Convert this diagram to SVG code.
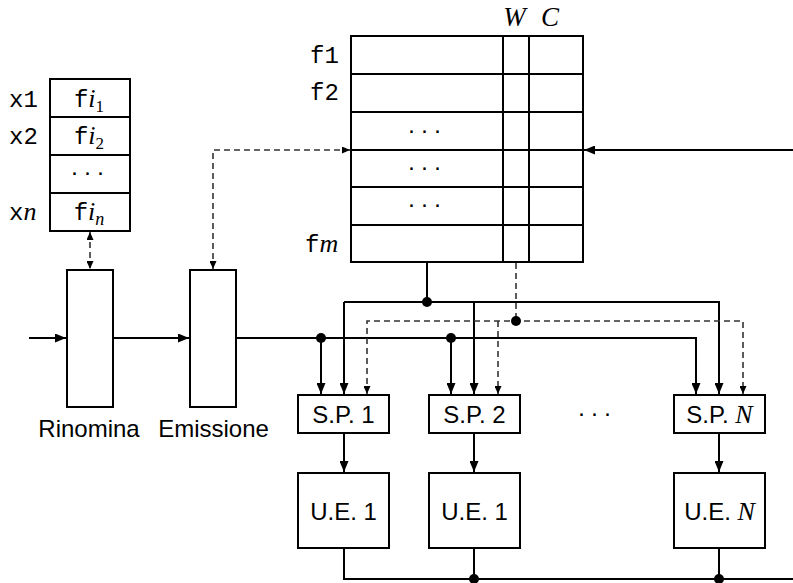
<svg xmlns="http://www.w3.org/2000/svg" width="793" height="583" viewBox="0 0 793 583">
<defs>
<marker id="a" markerUnits="userSpaceOnUse" markerWidth="11" markerHeight="9" refX="11" refY="4.5" orient="auto"><path d="M0,0 L11,4.5 L0,9 z" fill="#000"/></marker>
<marker id="d" markerUnits="userSpaceOnUse" markerWidth="8" markerHeight="7" refX="8" refY="3.5" orient="auto-start-reverse"><path d="M0,0 L8,3.5 L0,7 z" fill="#000"/></marker>
</defs>
<style>
.b{fill:#fff;stroke:#000;stroke-width:2}
.l{fill:none;stroke:#000;stroke-width:2}
.ds{fill:none;stroke:#333;stroke-width:1.6;stroke-dasharray:6 4}
.sans{font-family:"Liberation Sans",Arial,sans-serif;font-size:24px}
.tt{font-family:"Liberation Mono","Courier New",monospace;font-size:24px}
.mi{font-family:"Liberation Serif","Times New Roman",serif;font-style:italic}
.sub{font-family:"Liberation Serif","Times New Roman",serif;font-size:17px}
.dots{font-family:"Liberation Sans",Arial,sans-serif;font-size:24px;letter-spacing:5px}
</style>
<rect width="793" height="583" fill="#fff"/>

<g id="regfile">
<rect class="b" x="50" y="79" width="80" height="152"/>
<path class="l" d="M50,117 H130 M50,155 H130 M50,193 H130"/>
<text class="tt" x="9" y="107">x1</text>
<text class="tt" x="9" y="144">x2</text>
<text class="tt" x="9" y="220">x<tspan class="mi" font-size="26">n</tspan></text>
<text class="tt" x="89" y="107" text-anchor="middle">f<tspan class="mi" font-size="26">i</tspan><tspan class="sub" dy="5">1</tspan></text>
<text class="tt" x="89" y="144" text-anchor="middle">f<tspan class="mi" font-size="26">i</tspan><tspan class="sub" dy="5">2</tspan></text>
<text class="dots" x="90" y="180" text-anchor="middle">···</text>
<text class="tt" x="89" y="220" text-anchor="middle">f<tspan class="mi" font-size="26">i</tspan><tspan class="mi" font-size="18" dy="5">n</tspan></text>
</g>

<g id="table">
<rect class="b" x="351" y="36" width="232" height="226"/>
<path class="l" d="M351,74 H583 M351,112 H583 M351,150 H583 M351,187 H583 M351,225 H583 M503,36 V262 M529,36 V262"/>
<text class="tt" x="310" y="63">f1</text>
<text class="tt" x="310" y="100">f2</text>
<text class="tt" x="305" y="252">f<tspan class="mi" font-size="26">m</tspan></text>
<text class="mi" font-size="27" x="514.5" y="26" text-anchor="middle">W</text>
<text class="mi" font-size="27" x="550" y="26" text-anchor="middle">C</text>
<text class="dots" x="427" y="138" text-anchor="middle">···</text>
<text class="dots" x="427" y="175" text-anchor="middle">···</text>
<text class="dots" x="427" y="212" text-anchor="middle">···</text>
</g>

<g id="rinomina">
<rect class="b" x="67" y="270" width="46" height="137"/>
<text class="sans" x="89" y="437" text-anchor="middle">Rinomina</text>
</g>
<g id="emissione">
<rect class="b" x="190" y="270" width="46" height="137"/>
<text class="sans" x="213.5" y="437" text-anchor="middle">Emissione</text>
</g>

<g id="sp1"><rect class="b" x="298" y="395" width="91" height="38"/><text class="sans" x="343.5" y="423" text-anchor="middle">S.P. 1</text></g>
<g id="sp2"><rect class="b" x="429" y="395" width="91" height="38"/><text class="sans" x="474.5" y="423" text-anchor="middle">S.P. 2</text></g>
<g id="spN"><rect class="b" x="674" y="395" width="91" height="38"/><text class="sans" x="719.5" y="423" text-anchor="middle">S.P. <tspan class="mi" font-size="26">N</tspan></text></g>
<text class="dots" x="597" y="421" text-anchor="middle">···</text>

<g id="ue1"><rect class="b" x="298" y="473" width="91" height="75"/><text class="sans" x="343.5" y="520" text-anchor="middle">U.E. 1</text></g>
<g id="ue2"><rect class="b" x="429" y="473" width="91" height="75"/><text class="sans" x="474.5" y="520" text-anchor="middle">U.E. 1</text></g>
<g id="ueN"><rect class="b" x="674" y="473" width="91" height="75"/><text class="sans" x="719.5" y="520" text-anchor="middle">U.E. <tspan class="mi" font-size="26">N</tspan></text></g>

<g id="connectors">
<path class="l" d="M29,338 H66" marker-end="url(#a)"/>
<path class="l" d="M113,338 H189" marker-end="url(#a)"/>
<path class="ds" d="M90,232 V269" marker-start="url(#d)" marker-end="url(#d)"/>
<path class="ds" d="M213,269 V150 H350" marker-start="url(#d)" marker-end="url(#d)"/>
<path class="l" d="M793,150 H584" marker-end="url(#a)"/>
<path class="l" d="M236,338 H696 V394" marker-end="url(#a)"/>
<path class="l" d="M321,338 V394" marker-end="url(#a)"/>
<path class="l" d="M451,338 V394" marker-end="url(#a)"/>
<circle cx="321" cy="338" r="5"/>
<circle cx="451" cy="338" r="5"/>
<path class="l" d="M427,263 V302"/>
<path class="l" d="M344,302 H719 V394" marker-end="url(#a)"/>
<path class="l" d="M344,302 V394" marker-end="url(#a)"/>
<path class="l" d="M474,302 V394" marker-end="url(#a)"/>
<circle cx="427" cy="302" r="5"/>
<path class="ds" d="M516,263 V321"/>
<path class="ds" d="M367,394 V321 H743 V394" marker-start="url(#d)" marker-end="url(#d)"/>
<path class="ds" d="M498,321 V394" marker-end="url(#d)"/>
<circle cx="516" cy="321" r="5"/>
<path class="l" d="M344,433 V472" marker-end="url(#a)"/>
<path class="l" d="M474,433 V472" marker-end="url(#a)"/>
<path class="l" d="M719,433 V472" marker-end="url(#a)"/>
<path class="l" d="M344,548 V579 H793"/>
<path class="l" d="M474,548 V579"/>
<path class="l" d="M719,548 V579"/>
<circle cx="474" cy="579" r="5"/>
<circle cx="719" cy="579" r="5"/>
</g>
</svg>
